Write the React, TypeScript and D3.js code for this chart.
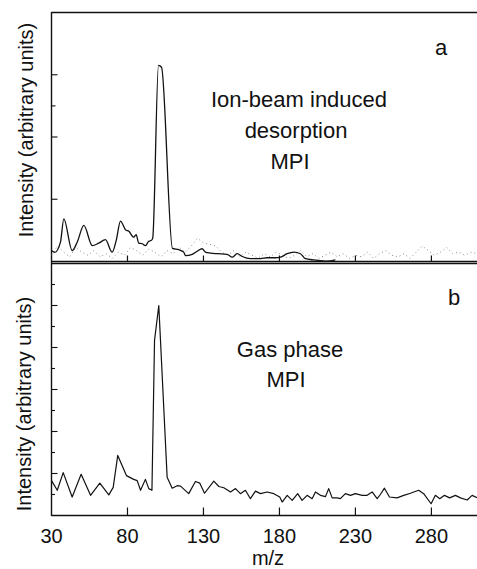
import React, { useEffect, useRef } from 'react';
import * as d3 from 'd3';

// panel a: ion-beam induced desorption MPI (solid trace)
const mzA = [30, 32.2, 35.9, 38.1, 43.6, 46.9, 51.3, 56.8, 61.1, 65.5, 69.9, 72.6, 75.4, 78.7, 80.9, 84.1, 85.7, 87.4, 89.7, 91.8, 94.0, 95.8, 96.6, 100.4, 102.4, 109.6, 113.8, 117.0, 118.2, 122.6, 125.9, 129.1, 131.3, 134.6, 139.0, 145.6, 148.9, 152.2, 155.5, 160.9, 167.5, 171.9, 177.4, 180.7, 185.1, 189.4, 193.8, 197.1, 202.6, 207.0, 211.4, 216.8];
const intA = [0.35, 0.29, 0.62, 1.37, 0.35, 0.62, 1.16, 0.51, 0.59, 0.70, 0.30, 0.68, 1.30, 1.02, 0.97, 0.78, 0.86, 0.59, 0.57, 0.51, 0.65, 0.68, 0.75, 6.30, 6.24, 0.42, 0.38, 0.30, 0.19, 0.23, 0.33, 0.41, 0.30, 0.27, 0.25, 0.23, 0.14, 0.25, 0.16, 0.09, 0.09, 0.12, 0.12, 0.14, 0.25, 0.30, 0.25, 0.09, 0.05, 0.03, 0.01, 0.05];

// panel a: dotted background trace
const mzDots = [30, 34, 38, 42, 46, 50, 54, 58, 62, 66, 70, 74, 78, 82, 86, 90, 94, 98, 102, 106, 110, 114, 118, 122, 126, 130, 134, 138, 142, 146, 150, 154, 158, 162, 166, 170, 174, 178, 182, 186, 190, 194, 198, 202, 206, 210, 214, 218, 222, 226, 230, 234, 238, 242, 246, 250, 254, 258, 262, 266, 270, 274, 278, 282, 286, 290, 294, 298, 302, 306, 310];
const intDots = [0.2, 0.5, 0.3, 0.15, 0.45, 0.3, 0.2, 0.35, 0.15, 0.25, 0.1, 0.3, 0.2, 0.45, 0.35, 0.2, 0.4, 0.3, 0.15, 0.35, 0.25, 0.45, 0.3, 0.5, 0.75, 0.6, 0.55, 0.5, 0.3, 0.2, 0.35, 0.15, 0.3, 0.2, 0.1, 0.25, 0.15, 0.3, 0.2, 0.1, 0.2, 0.35, 0.15, 0.25, 0.1, 0.2, 0.3, 0.15, 0.25, 0.1, 0.2, 0.15, 0.3, 0.1, 0.25, 0.35, 0.2, 0.15, 0.25, 0.1, 0.3, 0.5, 0.35, 0.2, 0.3, 0.45, 0.25, 0.3, 0.2, 0.3, 0.25];

// panel b: gas phase MPI
const mzB = [30.0, 33.8, 37.7, 43.6, 49.5, 55.7, 61.8, 67.7, 70.6, 73.6, 79.3, 84.1, 86.4, 88.6, 91.8, 94.0, 96.1, 97.8, 100.6, 106.1, 109.4, 112.7, 114.9, 120.3, 124.7, 127.6, 130.7, 136.8, 140.1, 143.4, 147.8, 151.1, 154.3, 157.6, 160.9, 164.2, 167.5, 171.9, 176.3, 180.2, 181.8, 185.1, 188.4, 192.0, 194.9, 198.2, 201.5, 203.7, 207.0, 210.3, 212.4, 214.7, 218.0, 220.1, 223.4, 226.7, 230.0, 234.4, 237.7, 241.0, 244.3, 246.4, 249.1, 252.4, 257.4, 261.8, 266.2, 271.6, 274.9, 279.8, 282.6, 285.5, 288.6, 292.0, 295.8, 299.1, 303.5, 306.8, 310.3];
const intB = [0.83, 0.60, 1.02, 0.44, 0.98, 0.48, 0.77, 0.49, 0.67, 1.43, 0.95, 0.86, 0.83, 0.60, 0.86, 0.64, 0.60, 4.17, 5.00, 0.91, 0.65, 0.71, 0.70, 0.52, 0.81, 0.77, 0.53, 0.82, 0.69, 0.66, 0.56, 0.64, 0.52, 0.60, 0.40, 0.58, 0.52, 0.56, 0.52, 0.44, 0.32, 0.48, 0.36, 0.52, 0.36, 0.48, 0.40, 0.56, 0.48, 0.45, 0.64, 0.42, 0.42, 0.40, 0.52, 0.48, 0.52, 0.48, 0.48, 0.56, 0.40, 0.50, 0.65, 0.44, 0.42, 0.48, 0.53, 0.60, 0.52, 0.28, 0.48, 0.40, 0.48, 0.42, 0.48, 0.42, 0.37, 0.48, 0.42];

const xTicks = [30, 80, 130, 180, 230, 280];
const yTicksA = [2, 4, 5, 6];
const yMajorB = [1, 2, 3, 4, 5];
const yMinorB = [0.5, 1.5, 2.5, 3.5, 4.5, 5.5];

const FONT = "'Liberation Sans', Arial, Helvetica, sans-serif";

const App = () => {
    const svgRef = useRef<SVGSVGElement>(null);

    useEffect(() => {
        const W = 477, H = 569;
        const left = 51.5, right = 477;
        const svg = d3.select(svgRef.current).html("")
            .attr("width", W).attr("height", H)
            .attr("viewBox", `0 0 ${W} ${H}`);

        const x = d3.scaleLinear().domain([30, 310]).range([left, right]);
        const yA = d3.scaleLinear().domain([0, 8]).range([261.5, 12.5]);
        const yB = d3.scaleLinear().domain([0, 6]).range([515.5, 263.5]);

        const ink = "#111";

        // frames
        svg.append("line").attr("x1", left).attr("x2", left).attr("y1", 12).attr("y2", 516)
            .attr("stroke", ink).attr("stroke-width", 1.4);
        [12.5, 261.5, 263.5, 515.5].forEach(yy => {
            svg.append("line").attr("x1", left).attr("x2", right).attr("y1", yy).attr("y2", yy)
                .attr("stroke", ink).attr("stroke-width", 1.4);
        });

        // x ticks (pointing up into each panel)
        xTicks.filter(t => t > 30).forEach(t => {
            svg.append("line").attr("x1", x(t)).attr("x2", x(t)).attr("y1", 261.5).attr("y2", 255.5)
                .attr("stroke", ink).attr("stroke-width", 1.2);
            svg.append("line").attr("x1", x(t)).attr("x2", x(t)).attr("y1", 515.5).attr("y2", 507.5)
                .attr("stroke", ink).attr("stroke-width", 1.2);
        });
        svg.append("g").selectAll("text").data(xTicks).enter().append("text")
            .attr("x", d => x(d)).attr("y", 543)
            .attr("text-anchor", "middle")
            .style("font-family", FONT).style("font-size", "20px").attr("fill", ink)
            .text(d => d);
        svg.append("text").attr("x", 268).attr("y", 565).attr("text-anchor", "middle")
            .style("font-family", FONT).style("font-size", "20px").attr("fill", ink)
            .text("m/z");

        // y ticks
        yTicksA.forEach(t => {
            svg.append("line").attr("x1", left).attr("x2", left + (t === 5 ? 4 : 6))
                .attr("y1", yA(t)).attr("y2", yA(t)).attr("stroke", ink).attr("stroke-width", 1.1);
        });
        yMajorB.forEach(t => {
            svg.append("line").attr("x1", left).attr("x2", left + 6)
                .attr("y1", yB(t)).attr("y2", yB(t)).attr("stroke", ink).attr("stroke-width", 1.1);
        });
        yMinorB.forEach(t => {
            svg.append("line").attr("x1", left).attr("x2", left + 3.5)
                .attr("y1", yB(t)).attr("y2", yB(t)).attr("stroke", ink).attr("stroke-width", 1.1);
        });

        // y labels
        [[33, 130], [31, 404]].forEach(([tx, ty]) => {
            svg.append("text")
                .attr("transform", `translate(${tx},${ty}) rotate(-90)`)
                .attr("text-anchor", "middle")
                .style("font-family", FONT).style("font-size", "20px").attr("fill", ink)
                .text("Intensity (arbitrary units)");
        });

        // dotted trace in panel a
        const lineA = d3.line<number>().x((d, i) => x(mzDots[i])).y(d => yA(d));
        svg.append("path").attr("d", lineA(intDots))
            .attr("fill", "none").attr("stroke", "#888").attr("stroke-width", 1)
            .attr("stroke-dasharray", "1 3");

        // solid traces (panel a is smoothed, panel b is raw)
        const solidA = d3.line<number>().x((d, i) => x(mzA[i])).y(d => yA(d))
            .curve(d3.curveMonotoneX);
        svg.append("path").attr("d", solidA(intA))
            .attr("fill", "none").attr("stroke", ink).attr("stroke-width", 1.3)
            .attr("stroke-linejoin", "round");
        const solidB = d3.line<number>().x((d, i) => x(mzB[i])).y(d => yB(d));
        svg.append("path").attr("d", solidB(intB))
            .attr("fill", "none").attr("stroke", ink).attr("stroke-width", 1.2)
            .attr("stroke-linejoin", "round");

        // annotations
        const note = (tx: number, ty: number, s: string) =>
            svg.append("text").attr("x", tx).attr("y", ty).attr("text-anchor", "middle")
                .style("font-family", FONT).style("font-size", "22px").attr("fill", ink).text(s);
        note(299, 107, "Ion-beam induced");
        note(296, 138, "desorption");
        note(290, 169, "MPI");
        note(441, 55, "a");
        note(290, 357, "Gas phase");
        note(286, 387, "MPI");
        note(454, 305, "b");
    }, []);

    return (
        <svg ref={svgRef} style={{ position: 'absolute', left: 0, top: 0, background: '#fff' }}></svg>
    );
};

export default App;
